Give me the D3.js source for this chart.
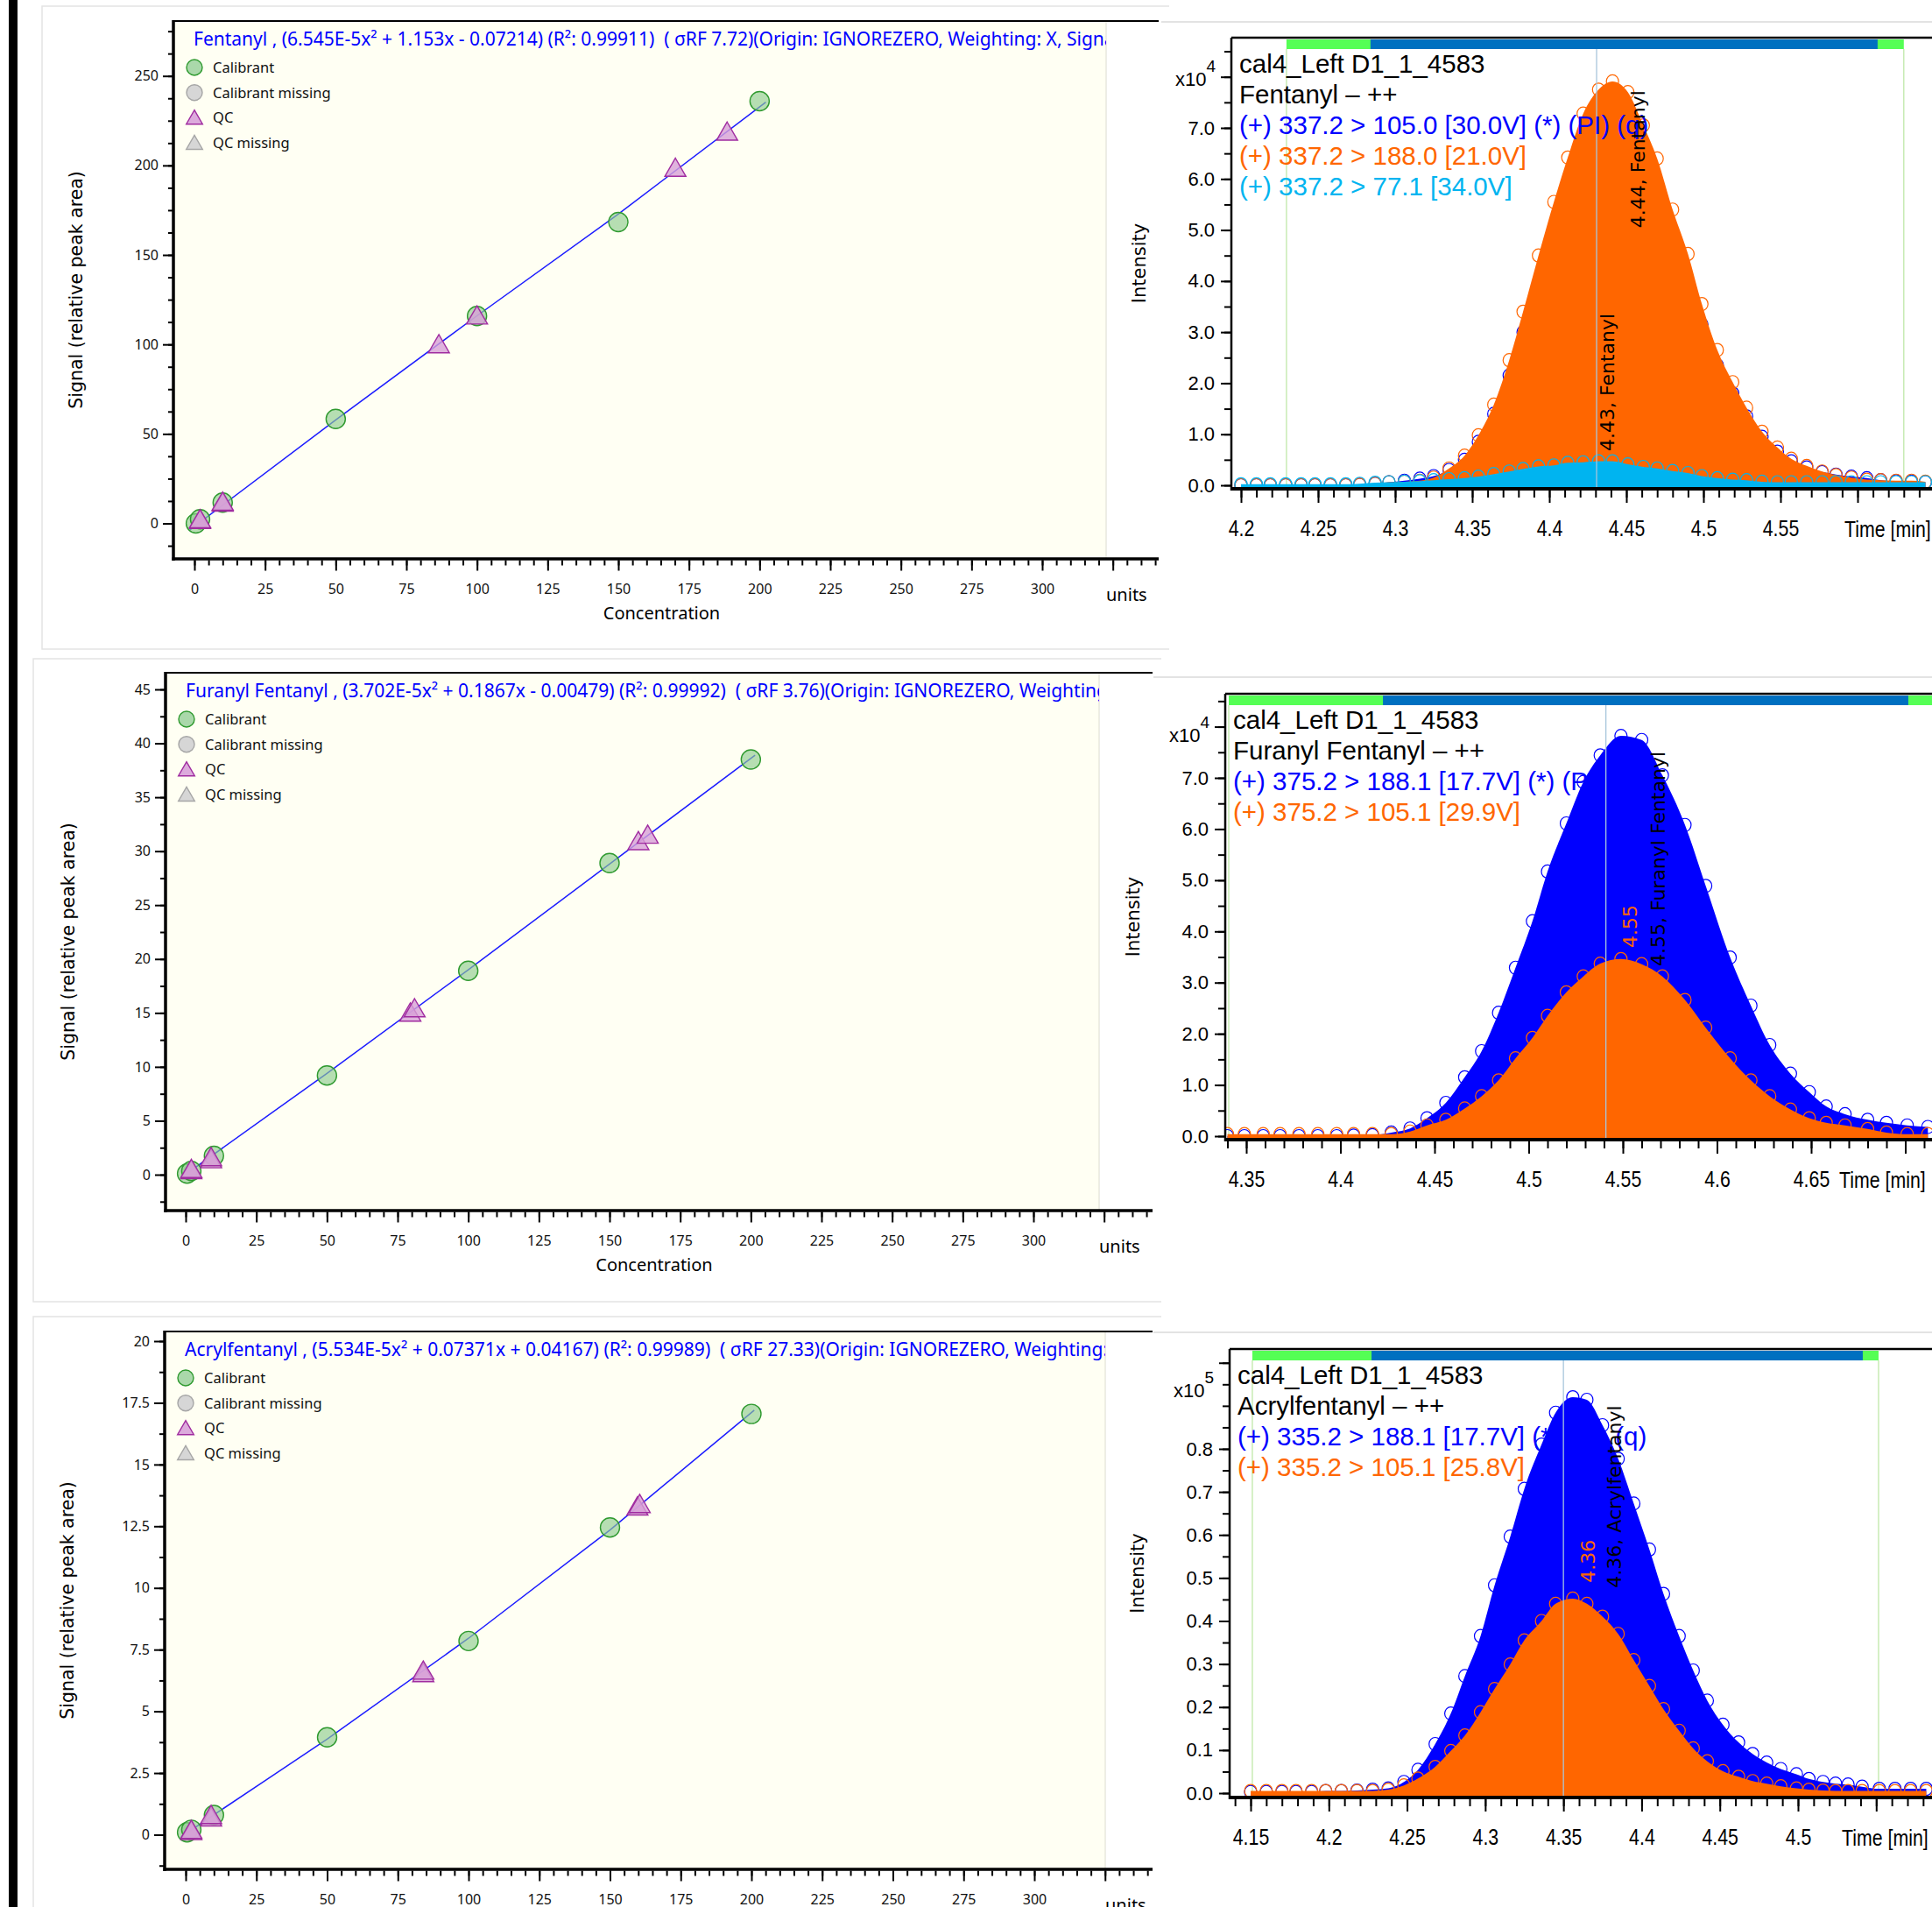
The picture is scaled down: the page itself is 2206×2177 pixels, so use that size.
<!DOCTYPE html>
<html>
<head>
<meta charset="utf-8">
<script src="https://cdn.jsdelivr.net/npm/d3@7"></script>
<style>
  body { margin: 0; background: #fff; }
  .cal text { font-family: "Noto Sans", "Open Sans", sans-serif; white-space: pre; }
  .chrom text { font-family: "Liberation Sans", Arial, sans-serif; white-space: pre; }
  .verd { font-family: "DejaVu Sans", Verdana, sans-serif !important; }
</style>
</head>
<body>
<svg id="vis" width="2206" height="2177"></svg>
<script>
// ---------- calibration curves ----------
var calXTicks = [0, 25, 50, 75, 100, 125, 150, 175, 200, 225, 250, 275, 300];

var fenTitle = "Fentanyl , (6.545E-5x² + 1.153x - 0.07214) (R²: 0.99911)  ( σRF 7.72)(Origin: IGNOREZERO, Weighting: X, Signal: Area)";
var fenCalX = [0.5, 2, 10, 50, 100, 150, 200];
var fenCalY = [0.0, 2.3, 11.6, 58.4, 115.9, 168.4, 235.9];
var fenQcX = [2, 2, 10, 10, 86.5, 100, 170.2, 188.5];
var fenQcY = [0.6, 1.0, 10.2, 10.8, 98.7, 114.8, 197.3, 217.5];
var fenFitX = [-1.7, 50, 100, 150, 202.2];
var fenFitY = [-3.7, 57.8, 116.0, 172.8, 235.4];
var fenYTicks = [0, 50, 100, 150, 200, 250];

var furTitle = "Furanyl Fentanyl , (3.702E-5x² + 0.1867x - 0.00479) (R²: 0.99992)  ( σRF 3.76)(Origin: IGNOREZERO, Weighting: X, Signal: Area)";
var furCalX = [0.5, 2, 10, 50, 100, 150, 200];
var furCalY = [0.1, 0.35, 1.75, 9.2, 18.9, 28.9, 38.5];
var furQcX = [2, 2, 9, 9, 79.5, 81, 160.2, 163.5];
var furQcY = [0.2, 0.3, 1.2, 1.4, 14.8, 15.2, 30.7, 31.3];
var furFitX = [-1.2, 50, 100, 150, 201.5];
var furFitY = [-0.2, 9.4, 19.0, 28.8, 38.9];
var furYTicks = [0, 5, 10, 15, 20, 25, 30, 35, 40, 45];

var acrTitle = "Acrylfentanyl , (5.534E-5x² + 0.07371x + 0.04167) (R²: 0.99989)  ( σRF 27.33)(Origin: IGNOREZERO, Weighting: X, Signal: Area)";
var acrCalX = [0.5, 2, 10, 50, 100, 150, 200];
var acrCalY = [0.1, 0.2, 0.8, 3.95, 7.85, 12.45, 17.05];
var acrQcX = [2, 2, 9, 9, 84, 84, 159.7, 160.5];
var acrQcY = [0.05, 0.1, 0.6, 0.7, 6.45, 6.55, 13.2, 13.3];
var acrFitX = [-1.6, 50, 100, 150, 201];
var acrFitY = [-0.08, 3.87, 7.96, 12.35, 17.2];
var acrYTicks = [0, 2.5, 5, 7.5, 10, 12.5, 15, 17.5, 20];

var legendNames = ["Calibrant", "Calibrant missing", "QC", "QC missing"];

// ---------- chromatograms ----------
var fenSample = "cal4_Left D1_1_4583";
var fenCompound = "Fentanyl – ++";
var fenTraceNames = ["(+) 337.2 > 105.0 [30.0V] (*) (PI) (q)", "(+) 337.2 > 188.0 [21.0V]", "(+) 337.2 > 77.1 [34.0V]"];
var fenT = [4.200, 4.210, 4.219, 4.229, 4.239, 4.248, 4.258, 4.268, 4.277, 4.287, 4.296, 4.306, 4.316, 4.325, 4.335, 4.345,
  4.354, 4.364, 4.374, 4.383, 4.393, 4.403, 4.412, 4.422, 4.432, 4.441, 4.451, 4.461, 4.470, 4.480, 4.490, 4.499,
  4.509, 4.519, 4.528, 4.538, 4.548, 4.557, 4.567, 4.577, 4.586, 4.596, 4.606, 4.615, 4.625, 4.635, 4.644];
var fen105 = [0, 0, 0, 0, 0, 0, 0, 0, 0.01, 0.03, 0.06, 0.09, 0.13, 0.18, 0.30, 0.50,
  0.85, 1.40, 2.15, 3.00, 3.95, 4.90, 5.70, 6.40, 6.85, 7.00, 6.80, 6.25, 5.65, 4.80, 4.00, 3.15,
  2.35, 1.80, 1.35, 0.95, 0.66, 0.47, 0.35, 0.26, 0.21, 0.17, 0.14, 0.10, 0.08, 0.07, 0.06];
var fen188 = [0, 0, 0, 0, 0, 0, 0, 0, 0.01, 0.03, 0.06, 0.07, 0.09, 0.15, 0.33, 0.58,
  0.98, 1.58, 2.45, 3.40, 4.50, 5.55, 6.42, 7.28, 7.75, 7.91, 7.70, 7.05, 6.40, 5.40, 4.53, 3.55,
  2.65, 2.02, 1.52, 1.05, 0.74, 0.52, 0.38, 0.27, 0.20, 0.15, 0.11, 0.10, 0.09, 0.09, 0.07];
var fen77 = [0.02, 0.02, 0.02, 0.02, 0.02, 0.02, 0.02, 0.02, 0.03, 0.05, 0.06, 0.07, 0.08, 0.10, 0.12, 0.14,
  0.17, 0.22, 0.27, 0.32, 0.37, 0.39, 0.44, 0.45, 0.47, 0.47, 0.41, 0.36, 0.33, 0.28, 0.24, 0.18,
  0.14, 0.11, 0.10, 0.07, 0.06, 0.06, 0.06, 0.06, 0.06, 0.06, 0.06, 0.06, 0.06, 0.06, 0.06];
var fenBounds = [4.2295, 4.284, 4.613, 4.630];
var fenRT = 4.4307;
var fenTimeTicks = [4.2, 4.25, 4.3, 4.35, 4.4, 4.45, 4.5, 4.55];
var fenIntTicks = [0, 1, 2, 3, 4, 5, 6, 7];

var furSample = "cal4_Left D1_1_4583";
var furCompound = "Furanyl Fentanyl – ++";
var furTraceNames = ["(+) 375.2 > 188.1 [17.7V] (*) (PI) (q)", "(+) 375.2 > 105.1 [29.9V]"];
var furT = [4.340, 4.349, 4.359, 4.368, 4.378, 4.388, 4.398, 4.407, 4.417, 4.427, 4.437, 4.446, 4.456, 4.466, 4.475, 4.484,
  4.493, 4.502, 4.510, 4.520, 4.529, 4.538, 4.549, 4.560, 4.571, 4.583, 4.594, 4.607, 4.618, 4.628, 4.639, 4.649,
  4.658, 4.668, 4.680, 4.690, 4.701, 4.712];
var fur188 = [0, 0, 0, 0, 0, 0, 0, 0.01, 0.02, 0.07, 0.15, 0.35, 0.65, 1.15, 1.66, 2.41,
  3.29, 4.20, 5.17, 6.11, 6.92, 7.44, 7.82, 7.74, 7.05, 6.08, 4.89, 3.49, 2.55, 1.78, 1.22, 0.86,
  0.58, 0.43, 0.32, 0.26, 0.21, 0.18];
var fur105 = [0.04, 0.04, 0.04, 0.04, 0.04, 0.04, 0.04, 0.04, 0.04, 0.04, 0.09, 0.21, 0.32, 0.54, 0.78, 1.09,
  1.52, 1.92, 2.35, 2.81, 3.12, 3.37, 3.46, 3.36, 3.12, 2.66, 2.12, 1.52, 1.09, 0.78, 0.52, 0.35,
  0.26, 0.21, 0.14, 0.07, 0.04, 0.04];
var furBounds = [4.3407, 4.4226, 4.7016, 4.72];
var furRT = 4.541;
var furTimeTicks = [4.35, 4.4, 4.45, 4.5, 4.55, 4.6, 4.65];
var furIntTicks = [0, 1, 2, 3, 4, 5, 6, 7];

var acrSample = "cal4_Left D1_1_4583";
var acrCompound = "Acrylfentanyl – ++";
var acrTraceNames = ["(+) 335.2 > 188.1 [17.7V] (*) (PI) (q)", "(+) 335.2 > 105.1 [25.8V]"];
var acrT = [4.150, 4.160, 4.170, 4.179, 4.189, 4.198, 4.208, 4.218, 4.228, 4.238, 4.248, 4.257, 4.268, 4.278, 4.287, 4.297,
  4.306, 4.316, 4.325, 4.336, 4.345, 4.356, 4.365, 4.375, 4.385, 4.395, 4.405, 4.414, 4.424, 4.433, 4.442, 4.452,
  4.462, 4.471, 4.480, 4.489, 4.499, 4.507, 4.516, 4.524, 4.532, 4.541, 4.552, 4.562, 4.572, 4.582];
var acr188 = [0.003, 0.003, 0.003, 0.003, 0.003, 0.005, 0.005, 0.006, 0.008, 0.011, 0.026, 0.054, 0.114, 0.185, 0.272, 0.365,
  0.483, 0.596, 0.707, 0.810, 0.884, 0.920, 0.914, 0.855, 0.777, 0.673, 0.566, 0.463, 0.365, 0.285, 0.215, 0.159,
  0.118, 0.091, 0.071, 0.056, 0.044, 0.033, 0.026, 0.022, 0.020, 0.015, 0.010, 0.010, 0.010, 0.010];
var acr105 = [0.005, 0.005, 0.005, 0.005, 0.005, 0.005, 0.005, 0.005, 0.005, 0.008, 0.018, 0.034, 0.061, 0.098, 0.134, 0.188,
  0.242, 0.299, 0.355, 0.400, 0.440, 0.452, 0.440, 0.410, 0.370, 0.309, 0.249, 0.195, 0.145, 0.104, 0.074, 0.051,
  0.038, 0.028, 0.022, 0.016, 0.011, 0.008, 0.006, 0.005, 0.005, 0.005, 0.005, 0.005, 0.005, 0.005];
var acrBounds = [4.1511, 4.2273, 4.5414, 4.5515];
var acrRT = 4.35;
var acrTimeTicks = [4.15, 4.2, 4.25, 4.3, 4.35, 4.4, 4.45, 4.5];
var acrIntTicks = [0, 0.1, 0.2, 0.3, 0.4, 0.5, 0.6, 0.7, 0.8];

// colours
var cBlue = "#0000ff", cOrange = "#ff6600", cCyan = "#00b4f0";
var narrow = 0.82; // squeeze for the narrow axis font

var vis = d3.select('#vis');
vis.append('rect').attr('width', 2206).attr('height', 2177).attr('fill', '#fff');
//black strip on the far left
vis.append('rect').attr('x', 10).attr('y', 0).attr('width', 10).attr('height', 2177).attr('fill', '#000');

// panel boxes / plot frames (pixels)
var calLayout = [
  {id: 0, boxL: 48, boxT: 7, boxR: 1335, boxB: 741, left: 198, top: 24, bottom: 638, bgRight: 1263, axisRight: 1323,
   x0: 222, x300: 1190, yB: 250, y0px: 597.5, yBpx: 86.7, minor: 12.5, minLo: -12.5, minHi: 275},
  {id: 1, boxL: 38, boxT: 752, boxR: 1326, boxB: 1486, left: 189, top: 768, bottom: 1382, bgRight: 1255, axisRight: 1316,
   x0: 212, x300: 1180, yB: 45, y0px: 1341, yBpx: 787, minor: 2.5, minLo: -2.5, minHi: 45},
  {id: 2, boxL: 38, boxT: 1503, boxR: 1326, boxB: 2190, left: 188, top: 1520, bottom: 2134, bgRight: 1262, axisRight: 1316,
   x0: 212, x300: 1181, yB: 20, y0px: 2094.5, yBpx: 1531, minor: 1.25, minLo: -1.25, minHi: 20}
];
var calData = [
  {title: fenTitle, calX: fenCalX, calY: fenCalY, qcX: fenQcX, qcY: fenQcY, fitX: fenFitX, fitY: fenFitY, yTicks: fenYTicks},
  {title: furTitle, calX: furCalX, calY: furCalY, qcX: furQcX, qcY: furQcY, fitX: furFitX, fitY: furFitY, yTicks: furYTicks},
  {title: acrTitle, calX: acrCalX, calY: acrCalY, qcX: acrQcX, qcY: acrQcY, fitX: acrFitX, fitY: acrFitY, yTicks: acrYTicks}
];

function styleAxis(sel, w) {
  sel.select('.domain').remove();
  sel.selectAll('.tick line').attr('stroke', '#000').attr('stroke-width', w);
}

function drawCal(L, d) {
  var x = d3.scaleLinear().domain([0, 300]).range([L.x0, L.x300]);
  var y = d3.scaleLinear().domain([0, L.yB]).range([L.y0px, L.yBpx]);
  var g = vis.append('g').attr('class', 'cal');

  // light panel outline
  g.append('path')
    .attr('d', 'M' + L.boxR + ',' + L.boxT + 'H' + L.boxL + 'V' + L.boxB + 'H' + L.boxR)
    .attr('fill', 'none').attr('stroke', '#e4e4e4').attr('stroke-width', 1.5);

  g.append('rect').attr('x', L.left).attr('y', L.top)
    .attr('width', L.bgRight - L.left).attr('height', L.bottom - L.top)
    .attr('fill', '#fffff3');
  g.append('line').attr('x1', L.bgRight).attr('x2', L.bgRight).attr('y1', L.top).attr('y2', L.bottom)
    .attr('stroke', '#dcdcd0').attr('stroke-width', 1);

  var clipId = 'calclip' + L.id;
  vis.append('clipPath').attr('id', clipId).append('rect')
    .attr('x', L.left).attr('y', L.top).attr('width', L.bgRight - L.left).attr('height', L.bottom - L.top);
  var inner = g.append('g').attr('clip-path', 'url(#' + clipId + ')');

  //title
  inner.append('text').attr('x', L.left + 23).attr('y', L.top + 28)
    .attr('fill', cBlue).style('font-size', '21px').text(d.title);

  // legend
  var ly = [53, 81.7, 110.4, 139.1];
  var sym = d3.symbol().type(d3.symbolTriangle).size(150);
  legendNames.forEach(function(name, i) {
    var cx = L.left + 24, cy = L.top + ly[i];
    if (i < 2) {
      inner.append('circle').attr('cx', cx).attr('cy', cy).attr('r', 9)
        .attr('fill', i == 0 ? '#aad8aa' : '#d6d6d6').attr('stroke', i == 0 ? '#2f9a2f' : '#a6a6a6').attr('stroke-width', 1.4);
    } else {
      inner.append('path').attr('d', sym()).attr('transform', 'translate(' + cx + ',' + (cy + 2) + ')')
        .attr('fill', i == 2 ? '#dcaadc' : '#d6d6d6').attr('stroke', i == 2 ? '#a02ca0' : '#a6a6a6').attr('stroke-width', 1.4);
    }
    inner.append('text').attr('x', L.left + 45).attr('y', cy + 6).style('font-size', '16.5px').attr('fill', '#111').text(name);
  });

  // fit line
  var lineFunc = d3.line().x(function(p) { return x(p[0]); }).y(function(p) { return y(p[1]); });
  inner.append('path').datum(d3.zip(d.fitX, d.fitY)).attr('d', lineFunc)
    .attr('fill', 'none').attr('stroke', '#1c1cff').attr('stroke-width', 1.5);

  inner.selectAll('.calpt').data(d3.zip(d.calX, d.calY)).enter().append('circle')
    .attr('class', 'calpt')
    .attr('cx', function(p) { return x(p[0]); }).attr('cy', function(p) { return y(p[1]); })
    .attr('r', 11).attr('fill', '#8fcc8f').attr('fill-opacity', 0.65)
    .attr('stroke', '#2f9a2f').attr('stroke-width', 1.4);

  var tri = d3.symbol().type(d3.symbolTriangle).size(250);
  inner.selectAll('.qcpt').data(d3.zip(d.qcX, d.qcY)).enter().append('path')
    .attr('class', 'qcpt').attr('d', tri())
    .attr('transform', function(p) { return 'translate(' + x(p[0]) + ',' + y(p[1]) + ')'; })
    .attr('fill', '#d7a0d7').attr('fill-opacity', 0.8)
    .attr('stroke', '#a02ca0').attr('stroke-width', 1.4);

  // axes
  var minorY = d3.range(Math.round(L.minLo / L.minor), Math.round(L.minHi / L.minor) + 1).map(function(k) { return k * L.minor; });
  var ya = g.append('g').attr('transform', 'translate(' + L.left + ',0)')
    .call(d3.axisLeft(y).tickValues(minorY).tickSize(6).tickFormat(''));
  styleAxis(ya, 2);
  var yb = g.append('g').attr('transform', 'translate(' + L.left + ',0)')
    .call(d3.axisLeft(y).tickValues(d.yTicks).tickSize(12).tickPadding(5).tickFormat(d3.format('~g')));
  styleAxis(yb, 2);
  yb.selectAll('text').style('font-size', '16px').attr('fill', '#111');

  var minorX = d3.range(0, 69).map(function(k) { return k * 5; });
  var xa = g.append('g').attr('transform', 'translate(0,' + (L.bottom + 1.5) + ')')
    .call(d3.axisBottom(x).tickValues(minorX).tickSize(6).tickFormat(''));
  styleAxis(xa, 2);
  var xb = g.append('g').attr('transform', 'translate(0,' + (L.bottom + 1.5) + ')')
    .call(d3.axisBottom(x).tickValues(calXTicks.concat([325])).tickSize(12).tickPadding(15)
      .tickFormat(function(v) { return v > 300 ? '' : v; }));
  styleAxis(xb, 2);
  xb.selectAll('text').style('font-size', '16px').attr('fill', '#111');

  // frame lines
  g.append('line').attr('x1', L.left).attr('x2', L.axisRight).attr('y1', L.top).attr('y2', L.top)
    .attr('stroke', '#000').attr('stroke-width', 2.2);
  g.append('line').attr('x1', L.left).attr('x2', L.left).attr('y1', L.top - 1).attr('y2', L.bottom + 2)
    .attr('stroke', '#000').attr('stroke-width', 3.5);
  g.append('line').attr('x1', L.left - 1.5).attr('x2', L.axisRight).attr('y1', L.bottom).attr('y2', L.bottom)
    .attr('stroke', '#000').attr('stroke-width', 3.5);

  g.append('text').attr('x', (L.left + L.bgRight) / 2 + 25).attr('y', L.bottom + 69)
    .attr('text-anchor', 'middle').style('font-size', '20px').text('Concentration');
  g.append('text').attr('x', L.bgRight).attr('y', L.bottom + 48).style('font-size', '20px').text('units');
  g.append('text').attr('class', 'verd')
    .attr('transform', 'translate(' + (L.left - 104) + ',' + ((L.top + L.bottom) / 2) + ') rotate(-90)')
    .attr('text-anchor', 'middle').style('font-size', '20.5px').text('Signal (relative peak area)');
}

calLayout.forEach(function(L, i) { drawCal(L, calData[i]); });

// ---- chromatograms ----
var chromLayout = [
  {id: 0, panelLeft: 1326, panelTop: 25, left: 1406, top: 43, axisY: 558, timeX: 2106,
   t0: 4.2, t0px: 1417, t1: 4.55, t1px: 2033, v1: 7, v0px: 554, v1px: 146,
   majLo: 420, majHi: 465, minLo: 420, minHi: 465, expo: '4', topTick: 8, minorStep: 0.5},
  {id: 1, panelLeft: 1317, panelTop: 773, left: 1399, top: 792, axisY: 1301, timeX: 2100,
   t0: 4.35, t0px: 1423, t1: 4.65, t1px: 2068, v1: 7, v0px: 1297, v1px: 888,
   majLo: 435, majHi: 470, minLo: 434, minHi: 471, expo: '4', topTick: 8, minorStep: 0.5},
  {id: 2, panelLeft: 1317, panelTop: 1521, left: 1404, top: 1540, axisY: 2052, timeX: 2103,
   t0: 4.15, t0px: 1428, t1: 4.5, t1px: 2053, v1: 0.8, v0px: 2047, v1px: 1654,
   majLo: 415, majHi: 455, minLo: 414, minHi: 458, expo: '5', topTick: 1.0, minorStep: 0.05}
];
var chromData = [
  {sample: fenSample, compound: fenCompound, names: fenTraceNames, t: fenT,
   traces: [[fen105, cBlue], [fen188, cOrange], [fen77, cCyan]], bounds: fenBounds, rt: fenRT,
   timeTicks: fenTimeTicks, intTicks: fenIntTicks,
   notes: [{t: 4.462, v: 5.04, text: '4.44, Fentanyl', c: '#000'}, {t: 4.442, v: 0.67, text: '4.43, Fentanyl', c: '#000'}]},
  {sample: furSample, compound: furCompound, names: furTraceNames, t: furT,
   traces: [[fur188, cBlue], [fur105, cOrange]], bounds: furBounds, rt: furRT,
   timeTicks: furTimeTicks, intTicks: furIntTicks,
   notes: [{t: 4.5574, v: 3.68, text: '4.55', c: cOrange}, {t: 4.5723, v: 3.32, text: '4.55, Furanyl Fentanyl', c: '#000'}]},
  {sample: acrSample, compound: acrCompound, names: acrTraceNames, t: acrT,
   traces: [[acr188, cBlue], [acr105, cOrange]], bounds: acrBounds, rt: acrRT,
   timeTicks: acrTimeTicks, intTicks: acrIntTicks,
   notes: [{t: 4.370, v: 0.489, text: '4.36', c: cOrange}, {t: 4.3866, v: 0.477, text: '4.36, Acrylfentanyl', c: '#000'}]}
];

function drawChrom(L, d) {
  var x = d3.scaleLinear().domain([L.t0, L.t1]).range([L.t0px, L.t1px]);
  var y = d3.scaleLinear().domain([0, L.v1]).range([L.v0px, L.v1px]);
  var g = vis.append('g').attr('class', 'chrom');

  g.append('line').attr('x1', L.panelLeft).attr('x2', 2206).attr('y1', L.panelTop).attr('y2', L.panelTop)
    .attr('stroke', '#dadada').attr('stroke-width', 1.5);

  var clipId = 'chclip' + L.id;
  vis.append('clipPath').attr('id', clipId).append('rect')
    .attr('x', L.left + 1).attr('y', L.top).attr('width', 2206 - L.left).attr('height', L.axisY - 2 - L.top);
  var inner = g.append('g').attr('clip-path', 'url(#' + clipId + ')');

  // integration bar on top
  var barY = L.top + 2, barH = 11;
  inner.append('rect').attr('x', x(d.bounds[0])).attr('y', barY)
    .attr('width', x(d.bounds[3]) - x(d.bounds[0])).attr('height', barH).attr('fill', '#55ff55');
  inner.append('rect').attr('x', x(d.bounds[1])).attr('y', barY)
    .attr('width', x(d.bounds[2]) - x(d.bounds[1])).attr('height', barH).attr('fill', '#0070c0');
  [d.bounds[0], d.bounds[3]].forEach(function(b) {
    inner.append('line').attr('x1', x(b)).attr('x2', x(b)).attr('y1', barY + barH).attr('y2', L.axisY)
      .attr('stroke', '#bfe8a8').attr('stroke-width', 1.3);
  });

  // traces: markers first, then the fill over them
  var area = d3.area().curve(d3.curveMonotoneX)
    .x(function(p) { return x(p[0]); }).y0(L.axisY).y1(function(p) { return y(p[1]); });
  d.traces.forEach(function(tr) {
    var pts = d3.zip(d.t, tr[0]);
    inner.append('g').selectAll('ellipse').data(pts).enter().append('ellipse')
      .attr('cx', function(p) { return x(p[0]); }).attr('cy', function(p) { return y(p[1]); })
      .attr('rx', 7).attr('ry', 7.5).attr('fill', 'none').attr('stroke', tr[1]).attr('stroke-width', 1.2);
    inner.append('path').datum(pts).attr('d', area).attr('fill', tr[1]);
  });

  // retention time marker
  inner.append('line').attr('x1', x(d.rt)).attr('x2', x(d.rt)).attr('y1', barY + barH).attr('y2', L.axisY)
    .attr('stroke', '#a8c6dc').attr('stroke-width', 1.3);

  // text block
  var tx = L.left + 9;
  inner.append('text').attr('x', tx).attr('y', L.top + 40).style('font-size', '29.5px').text(d.sample);
  inner.append('text').attr('x', tx).attr('y', L.top + 75).style('font-size', '29.5px').text(d.compound);
  d.names.forEach(function(nm, i) {
    inner.append('text').attr('x', tx).attr('y', L.top + 110 + 35 * i).style('font-size', '29.5px')
      .attr('fill', d.traces[i][1]).text(nm);
  });

  // peak labels
  d.notes.forEach(function(n) {
    inner.append('text').attr('class', 'verd')
      .attr('transform', 'translate(' + x(n.t) + ',' + y(n.v) + ') rotate(-90)')
      .style('font-size', '22px').attr('fill', n.c).text(n.text);
  });

  // axes
  var minorV = d3.range(0, Math.round(L.topTick / L.minorStep) + 2).map(function(k) { return k * L.minorStep; })
    .filter(function(v) { return y(v) >= L.top + 2; });
  var ya = g.append('g').attr('transform', 'translate(' + L.left + ',0)')
    .call(d3.axisLeft(y).tickValues(minorV).tickSize(8).tickFormat(''));
  styleAxis(ya, 2);
  var yb = g.append('g').attr('transform', 'translate(' + L.left + ',0)')
    .call(d3.axisLeft(y).tickValues(d.intTicks.concat([L.topTick])).tickSize(12).tickPadding(7)
      .tickFormat(function(v) { return v > d.intTicks[d.intTicks.length - 1] ? '' : d3.format('.1f')(v); }));
  styleAxis(yb, 2);
  yb.selectAll('text').style('font-size', '22px').attr('fill', '#000');

  var minorT = d3.range(L.minLo, L.minHi + 1).map(function(k) { return k / 100; });
  var majT = d3.range(L.majLo, L.majHi + 1, 5).map(function(k) { return k / 100; });
  var xa = g.append('g').attr('transform', 'translate(0,' + (L.axisY + 2) + ')')
    .call(d3.axisBottom(x).tickValues(minorT).tickSize(8).tickFormat(''));
  styleAxis(xa, 2);
  var xb = g.append('g').attr('transform', 'translate(0,' + (L.axisY + 2) + ')')
    .call(d3.axisBottom(x).tickValues(majT).tickSize(14).tickPadding(20)
      .tickFormat(function(v) { return d.timeTicks.indexOf(v) >= 0 ? d3.format('~g')(v) : ''; }));
  styleAxis(xb, 2);
  xb.selectAll('text').attr('transform', 'scale(' + narrow + ',1)').style('font-size', '26px').attr('fill', '#000');
  g.append('text')
    .attr('transform', 'translate(' + L.timeX + ',' + (L.axisY + 55) + ') scale(' + narrow + ',1)')
    .style('font-size', '26px').text('Time [min]');

  // frame
  g.append('line').attr('x1', L.left).attr('x2', 2206).attr('y1', L.top).attr('y2', L.top)
    .attr('stroke', '#000').attr('stroke-width', 2.5);
  g.append('line').attr('x1', L.left).attr('x2', L.left).attr('y1', L.top).attr('y2', L.axisY + 2)
    .attr('stroke', '#000').attr('stroke-width', 2.5);
  g.append('line').attr('x1', L.left - 1).attr('x2', 2206).attr('y1', L.axisY).attr('y2', L.axisY)
    .attr('stroke', '#000').attr('stroke-width', 4);

  // exponent label
  var ex = g.append('text').attr('x', L.left - 18).attr('y', L.top + 55).attr('text-anchor', 'end')
    .style('font-size', '22px');
  ex.append('tspan').text('x10');
  ex.append('tspan').attr('dy', -16).style('font-size', '19px').text(L.expo);

  g.append('text').attr('class', 'verd')
    .attr('transform', 'translate(' + (L.left - 98) + ',' + ((L.top + L.axisY) / 2) + ') rotate(-90)')
    .attr('text-anchor', 'middle').style('font-size', '21px').text('Intensity');
}

chromLayout.forEach(function(L, i) { drawChrom(L, chromData[i]); });
</script>
</body>
</html>
